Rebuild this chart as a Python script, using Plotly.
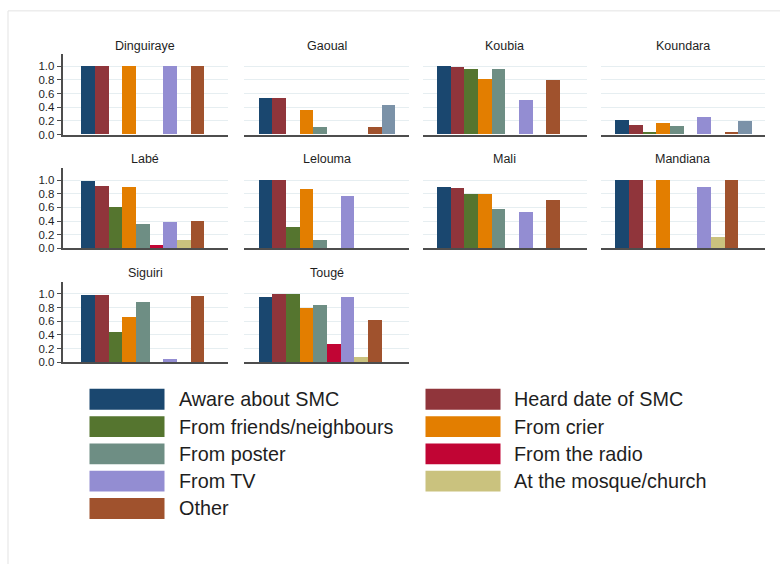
import plotly.graph_objects as go

# ---- data: share of respondents by prefecture ----
prefectures = ["Dinguiraye", "Gaoual", "Koubia", "Koundara", "Labé",
               "Lelouma", "Mali", "Mandiana", "Siguiri", "Tougé"]

aware   = [1.00, 0.53, 1.00, 0.20, 0.98, 1.00, 0.90, 1.00, 0.99, 0.96]
heard   = [1.00, 0.53, 0.99, 0.135, 0.91, 1.00, 0.885, 1.00, 0.98, 1.00]
friends = [None, None, 0.95, 0.03, 0.61, 0.31, 0.80, None, 0.44, 1.00]
crier   = [1.00, 0.36, 0.81, 0.17, 0.90, 0.87, 0.80, 1.00, 0.66, 0.80]
poster  = [None, 0.11, 0.95, 0.115, 0.36, 0.115, 0.58, None, 0.88, 0.83]
radio   = [None, None, None, None, 0.04, None, None, None, None, 0.26]
tv      = [1.00, None, 0.50, 0.245, 0.385, 0.765, 0.53, 0.89, 0.05, 0.96]
mosque  = [None, None, None, None, 0.125, None, None, 0.16, None, 0.07]
other   = [1.00, 0.10, 0.79, 0.03, 0.40, None, 0.70, 1.00, 0.97, 0.62]
extra   = [None, 0.42, None, 0.197, None, None, None, None, None, None]

series_names = ["Aware about SMC", "Heard date of SMC", "From friends/neighbours",
                "From crier", "From poster", "From the radio", "From TV",
                "At the mosque/church", "Other"]
series_values = [aware, heard, friends, crier, poster, radio, tv, mosque, other, extra]
series_colors = ["#1a476f", "#90353b", "#55752f", "#e37e00", "#6e8e84",
                 "#c10534", "#938dd2", "#cac27e", "#a0522d", "#7b92a8"]

y_ticks = [0.0, 0.2, 0.4, 0.6, 0.8, 1.0]

# ---- layout geometry (pixels) ----
W, H = 780, 570
FONT = "Liberation Sans, Arial, sans-serif"
col_left = [62.5, 244.0, 422.7, 600.7]
col_right = [228.0, 409.0, 586.7, 765.0]
bar_start = [80.7, 258.7, 436.7, 615.0]
row_bottom = [136.0, 251.0, 366.0]
bar_px = 13.67
unit_px = 69.0
plot_h = 81.0


def fx(p):
    return p / W


def fy(p):
    return 1 - p / H


fig = go.Figure()
annotations = []
shapes = []
layout_axes = {}

positions = list(range(1, len(series_values) + 1))

for i, pref in enumerate(prefectures):
    r, c = divmod(i, 4)
    n = i + 1
    sx = "" if n == 1 else str(n)
    vals = [s[i] for s in series_values]
    fig.add_trace(go.Bar(
        x=positions, y=vals, width=1,
        marker=dict(color=series_colors, line=dict(width=0)),
        xaxis="x" + sx, yaxis="y" + sx, showlegend=False, name=pref,
    ))

    lo = 0.5 - (bar_start[c] - col_left[c]) / bar_px
    hi = lo + (col_right[c] - col_left[c]) / bar_px
    layout_axes["xaxis" + sx] = dict(
        domain=[fx(col_left[c]), fx(col_right[c])], range=[lo, hi],
        anchor="y" + sx, showline=True, linecolor="#4d4d4d", linewidth=1.5,
        showgrid=False, zeroline=False, showticklabels=False, ticks="",
        fixedrange=True,
    )
    bottom = row_bottom[r]
    top = bottom - plot_h
    first_col = (c == 0)
    layout_axes["yaxis" + sx] = dict(
        domain=[fy(bottom), fy(top)], range=[0, plot_h / unit_px],
        anchor="x" + sx, tickvals=y_ticks, tickformat=".1f",
        showticklabels=first_col, ticks="outside" if first_col else "",
        ticklen=4, tickcolor="#4d4d4d", tickwidth=1,
        showline=first_col, linecolor="#4d4d4d", linewidth=1.5,
        showgrid=True, gridcolor="#e6eef1", gridwidth=1, zeroline=False,
        tickfont=dict(family=FONT, size=11.5, color="#1e1e1e"),
        fixedrange=True,
    )
    annotations.append(dict(
        text=pref, xref="paper", yref="paper",
        x=fx((col_left[c] + col_right[c]) / 2), y=fy(top - 9),
        xanchor="center", yanchor="middle", showarrow=False,
        font=dict(family=FONT, size=12.5, color="#1e1e1e"),
    ))

# ---- legend drawn as swatches + labels, two columns ----
leg_box_x = [(89.5, 164.5), (425.5, 500.5)]
leg_text_x = [177.0, 512.0]
leg_row0 = 403.5
leg_row_step = 27.6
leg_box_h = 21.0
for k, name in enumerate(series_names):
    r, c = divmod(k, 2)
    yc = leg_row0 + r * leg_row_step
    shapes.append(dict(
        type="rect", xref="paper", yref="paper",
        x0=fx(leg_box_x[c][0]), x1=fx(leg_box_x[c][1]),
        y0=fy(yc + leg_box_h / 2), y1=fy(yc - leg_box_h / 2),
        fillcolor=series_colors[k], line=dict(width=0),
    ))
    annotations.append(dict(
        text=name, xref="paper", yref="paper",
        x=fx(leg_text_x[c]), y=fy(yc), xanchor="left", yanchor="middle",
        showarrow=False, font=dict(family=FONT, size=19.8, color="#1e1e1e"),
    ))

# thin frame around the graph region
shapes.append(dict(type="line", xref="paper", yref="paper",
                   x0=fx(8), x1=fx(8), y0=fy(11), y1=0,
                   line=dict(color="#e3e3e3", width=1)))
shapes.append(dict(type="line", xref="paper", yref="paper",
                   x0=fx(8), x1=1, y0=fy(11), y1=fy(11),
                   line=dict(color="#e3e3e3", width=1)))

fig.update_layout(
    width=W, height=H, margin=dict(l=0, r=0, t=0, b=0),
    paper_bgcolor="white", plot_bgcolor="white",
    bargap=0, showlegend=False,
    annotations=annotations, shapes=shapes,
    font=dict(family=FONT),
    **layout_axes,
)

fig.write_html("out.html")
